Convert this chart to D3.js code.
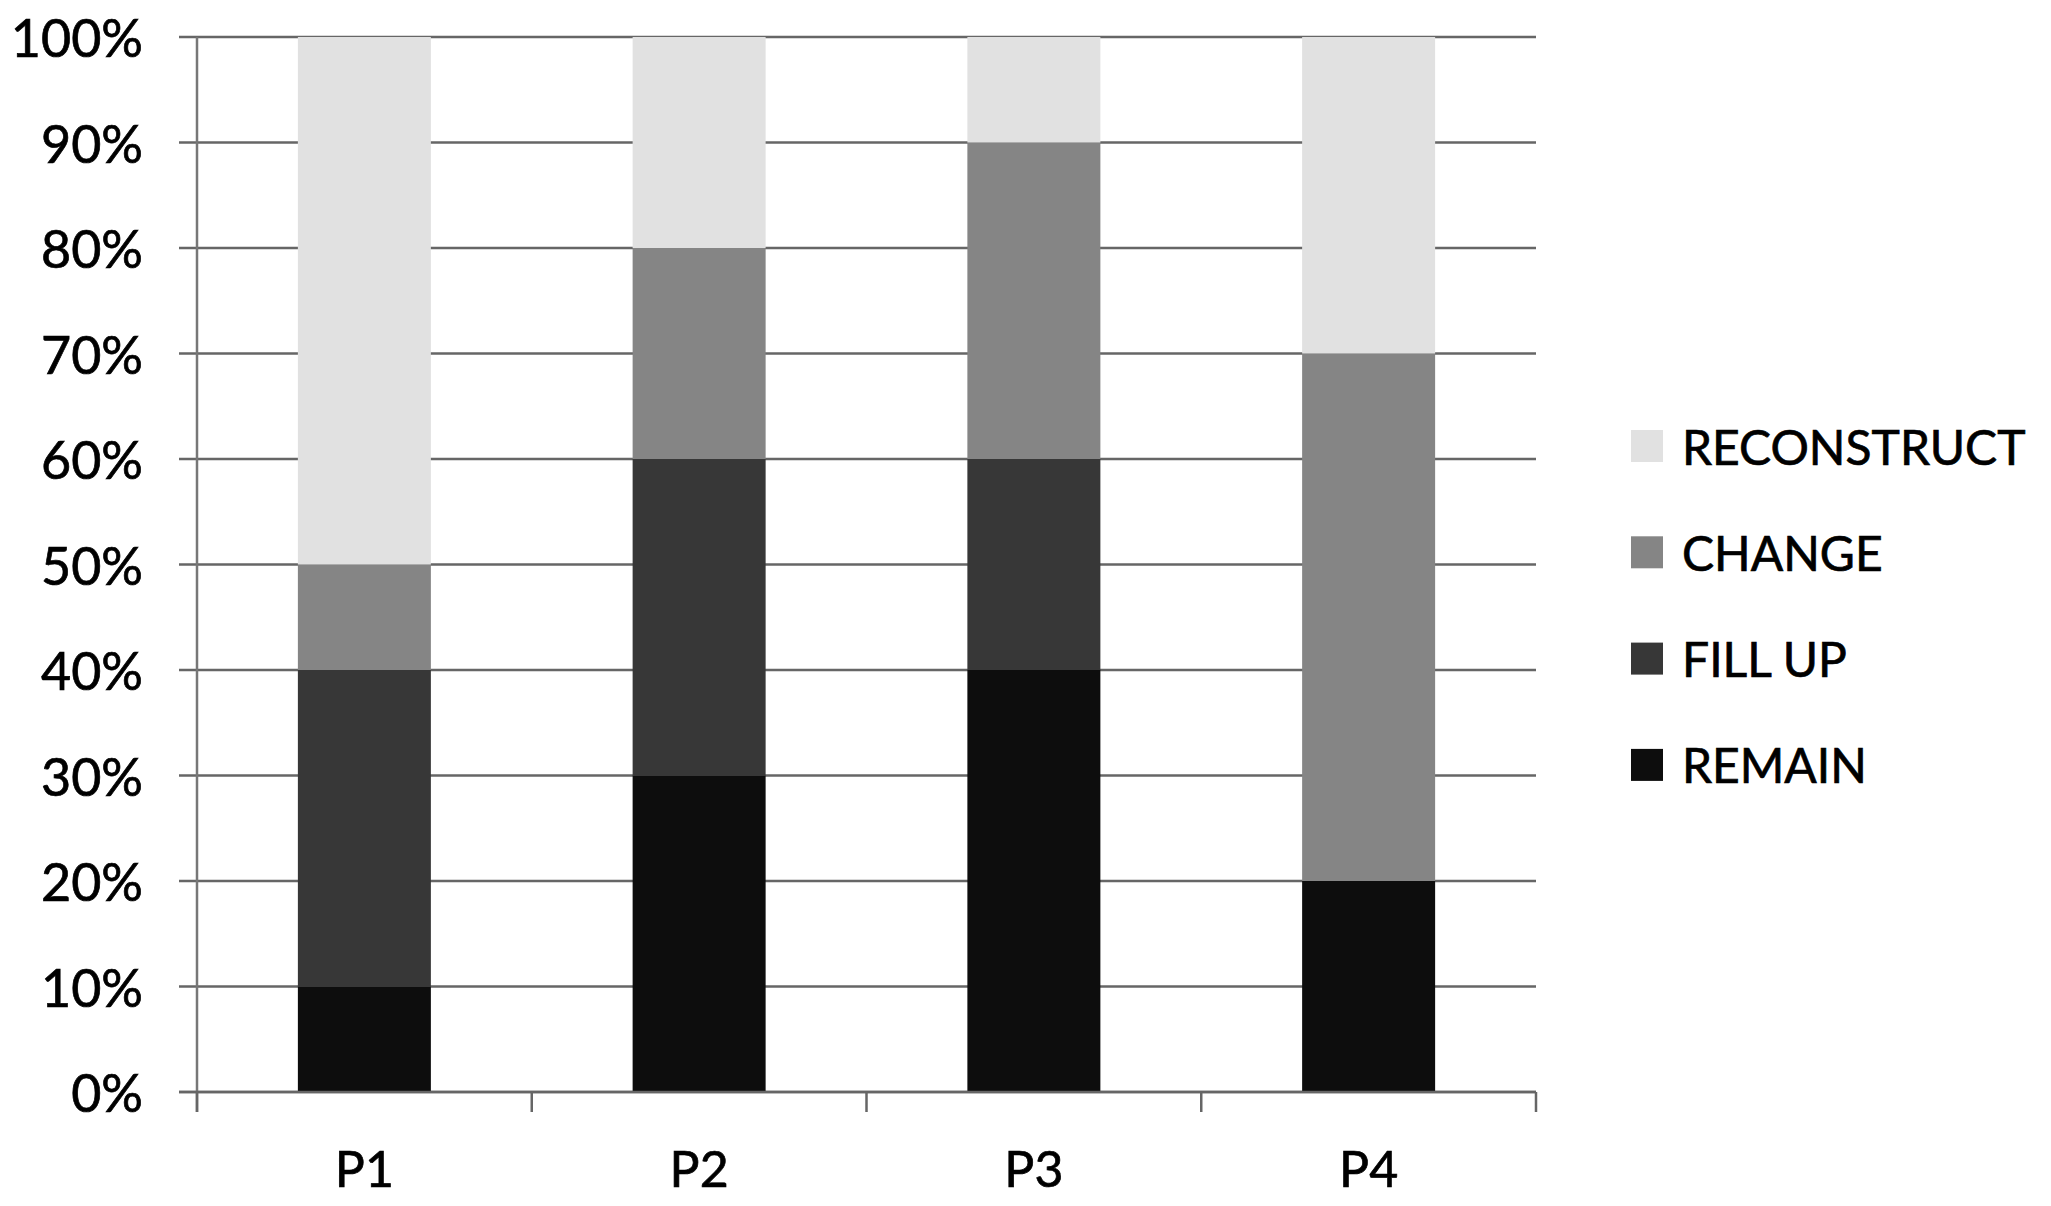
<!DOCTYPE html>
<html>
<head>
<meta charset="utf-8">
<script src="https://cdn.jsdelivr.net/npm/d3@7"></script>
<style>
  html, body { margin: 0; padding: 0; background: #fff; }
  svg { display: block; }
  text { font-family: Lato, "Open Sans", sans-serif; fill: #000; stroke: #000; stroke-width: 0.7px; }
</style>
</head>
<body>
<svg id="chart" width="2051" height="1206"></svg>
<script>
const categories = ["P1", "P2", "P3", "P4"];
const seriesNames = ["REMAIN", "FILL UP", "CHANGE", "RECONSTRUCT"];
const remain      = [0.10, 0.30, 0.40, 0.20];
const fillUp      = [0.30, 0.30, 0.20, 0.00];
const change      = [0.10, 0.20, 0.30, 0.50];
const reconstruct = [0.50, 0.20, 0.10, 0.30];
const yTicks = [0, 0.1, 0.2, 0.3, 0.4, 0.5, 0.6, 0.7, 0.8, 0.9, 1.0];
const colors = ["#0d0d0d", "#373737", "#858585", "#e1e1e1"];

const rows = categories.map((c, i) => ({
  cat: c, "REMAIN": remain[i], "FILL UP": fillUp[i], "CHANGE": change[i], "RECONSTRUCT": reconstruct[i]
}));

const svg = d3.select("#chart");
const plotLeft = 197, plotRight = 1536, plotTop = 37, plotBottom = 1092;

const x = d3.scaleBand().domain(categories).range([plotLeft, plotRight])
  .paddingInner(0.6027).paddingOuter(0.30135);
const y = d3.scaleLinear().domain([0, 1]).range([plotBottom, plotTop]);
const color = d3.scaleOrdinal().domain(seriesNames).range(colors);

// gridlines
svg.append("g").selectAll("line").data(yTicks).join("line")
  .attr("x1", plotLeft - 18).attr("x2", plotRight)
  .attr("y1", d => y(d)).attr("y2", d => y(d))
  .attr("stroke", "#666").attr("stroke-width", 2.5);

// y labels
svg.append("g").selectAll("text").data(yTicks).join("text")
  .attr("x", 143).attr("y", d => y(d))
  .attr("text-anchor", "end").attr("dominant-baseline", "central")
  .style("font-size", "52px")
  .text(d3.format(".0%"));

// bars
const stacked = d3.stack().keys(seriesNames)(rows);
svg.append("g").selectAll("g").data(stacked).join("g")
  .attr("fill", d => color(d.key))
  .selectAll("rect").data(d => d).join("rect")
  .attr("x", d => x(d.data.cat))
  .attr("width", x.bandwidth())
  .attr("y", d => y(d[1]))
  .attr("height", d => y(d[0]) - y(d[1]));

// y axis line
svg.append("line").attr("x1", plotLeft).attr("x2", plotLeft)
  .attr("y1", plotTop).attr("y2", plotBottom + 20)
  .attr("stroke", "#777").attr("stroke-width", 2.5);
// x axis baseline
svg.append("line").attr("x1", plotLeft - 18).attr("x2", plotRight)
  .attr("y1", plotBottom).attr("y2", plotBottom)
  .attr("stroke", "#666").attr("stroke-width", 2.5);
// category boundary ticks
const bounds = d3.range(categories.length + 1).map(i => plotLeft + i * x.step());
svg.append("g").selectAll("line").data(bounds).join("line")
  .attr("x1", d => d).attr("x2", d => d)
  .attr("y1", plotBottom).attr("y2", plotBottom + 20)
  .attr("stroke", "#666").attr("stroke-width", 2.5);

// x labels
svg.append("g").selectAll("text").data(categories).join("text")
  .attr("x", d => x(d) + x.bandwidth() / 2).attr("y", 1168)
  .attr("text-anchor", "middle").attr("dominant-baseline", "central")
  .style("font-size", "50px")
  .text(d => d);

// legend
const legendItems = seriesNames.slice().reverse();
const lg = svg.append("g").selectAll("g").data(legendItems).join("g")
  .attr("transform", (d, i) => `translate(1631, ${446 + i * 106.3})`);
lg.append("rect").attr("x", 0).attr("y", -16).attr("width", 32).attr("height", 32)
  .attr("fill", d => color(d)).style("stroke", "none");
lg.append("text").attr("x", 51).attr("y", 0)
  .attr("dominant-baseline", "central")
  .style("font-size", "48px")
  .text(d => d);
</script>
</body>
</html>
